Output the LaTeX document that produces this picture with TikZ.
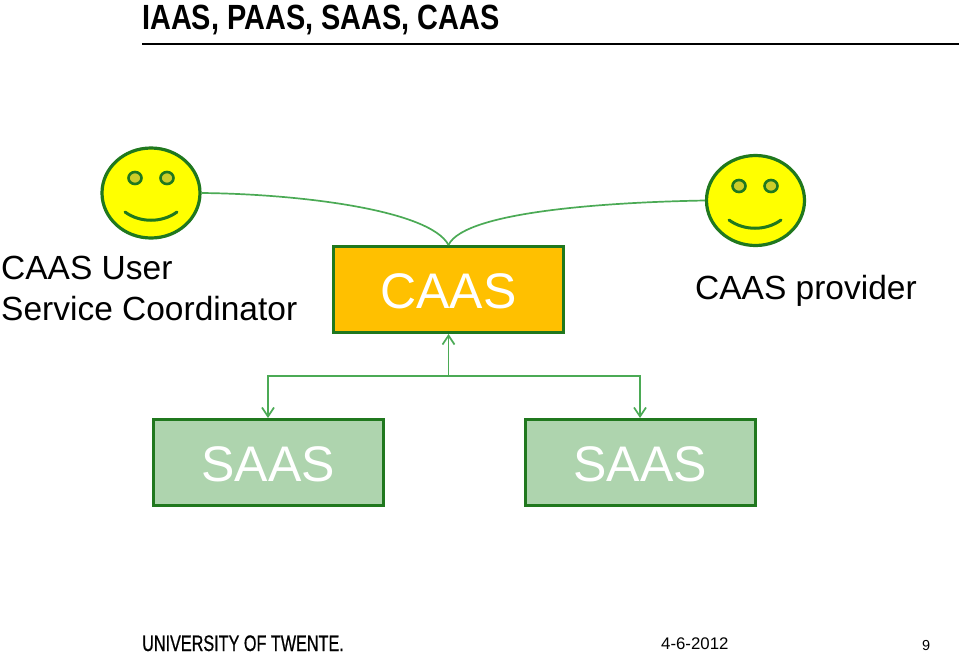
\documentclass[tikz,border=0pt]{standalone}
\usepackage{fontspec}
\setmainfont{Liberation Sans}
\newfontfamily\narrowbold[FakeStretch=0.825]{Liberation Sans Bold}
\newfontfamily\narrowlogo[FakeStretch=0.72,FakeBold=0.6]{Liberation Sans}
\usetikzlibrary{arrows.meta,shapes.geometric}
\definecolor{dkgreen}{RGB}{32,120,30}
\definecolor{lnk}{RGB}{75,170,85}
\definecolor{caasfill}{RGB}{255,192,0}
\definecolor{saasfill}{RGB}{174,212,174}
\definecolor{smile}{RGB}{255,255,0}
\definecolor{eyefill}{RGB}{205,205,40}
\newcommand{\lowertext}[1]{\raisebox{-2pt}[\height][\depth]{#1}}
\tikzset{
 x=1pt,y=-1pt,
 boxst/.style={draw=dkgreen,line width=3pt,minimum width=230pt,minimum height=86pt,inner sep=0pt,font=\fontsize{50}{50}\selectfont,text=white},
 face/.style={ellipse,draw=dkgreen,line width=3.2pt,fill=smile,inner sep=0pt,minimum width=98pt,minimum height=90pt},
 eye/.style={ellipse,draw=dkgreen,line width=2.6pt,fill=eyefill,minimum width=13pt,minimum height=12pt,inner sep=0pt},
 mouth/.style={draw=dkgreen,line width=3pt,line cap=round},
 lbl/.style={font=\fontsize{33.5}{40.5}\selectfont,inner sep=0pt,align=left},
 link/.style={draw=lnk,line width=1.7pt},
 linkhead/.style={link,-{Straight Barb[length=9pt,width=12pt,line width=1.7pt]}},
}
\begin{document}
\begin{tikzpicture}
\useasboundingbox (0,0) rectangle (959,654);
\fill[white] (0,0) rectangle (959,654);
\node[anchor=base west,inner sep=0pt,font=\narrowbold\fontsize{35}{35}\selectfont] (title) at (142,29) {IAAS, PAAS, SAAS, CAAS};
\coordinate (ruleL) at (142,44);
\coordinate (ruleR) at (959,44);
\draw[black,line width=1.6pt] (ruleL) -- (ruleR);
% faces
\node[face] (faceL) at (151,193) {};
\node[eye] (eyeL1) at (135,178) {};
\node[eye] (eyeL2) at (167,178) {};
\draw[mouth] (125,212) .. controls (140,223) and (162,223) .. (177,212);
\node[face] (faceR) at (755.5,200.5) {};
\node[eye] (eyeR1) at (739,186) {};
\node[eye] (eyeR2) at (771,186) {};
\draw[mouth] (729,220) .. controls (744,231) and (766,231) .. (781,220);
% boxes
\node[boxst,fill=caasfill] (caas) at (448.5,289.5) {\lowertext{CAAS}};
\node[boxst,fill=saasfill] (saasL) at (268,462.5) {\lowertext{SAAS}};
\node[boxst,fill=saasfill] (saasR) at (640,462.5) {\lowertext{SAAS}};
% labels
\node[lbl,anchor=base west] (user) at (1,320) {CAAS User\\Service Coordinator};
\node[lbl,anchor=base west] (prov) at (695,299) {CAAS provider};
% links
\draw[link] (faceL.east) .. controls (300,194) and (430,210) .. (caas.north);
\draw[link] (faceR.west) .. controls (620,202) and (465,210) .. (caas.north);
\coordinate (hub) at (448.5,376);
\draw[linkhead] (hub) -- (caas.south);
\draw[linkhead] (hub) -| (saasL.north);
\draw[linkhead] (hub) -| (saasR.north);
% footer
\node[anchor=base west,inner sep=0pt,font=\narrowlogo\fontsize{22.5}{22.5}\selectfont] (logo) at (142,651) {UNIVERSITY OF TWENTE.};
\node[anchor=base west,inner sep=0pt,font=\fontsize{16.8}{16.8}\selectfont] (date) at (661,649) {4-6-2012};
\node[anchor=base west,inner sep=0pt,font=\fontsize{14.5}{14.5}\selectfont] (page) at (922,650) {9};
\end{tikzpicture}
\end{document}
